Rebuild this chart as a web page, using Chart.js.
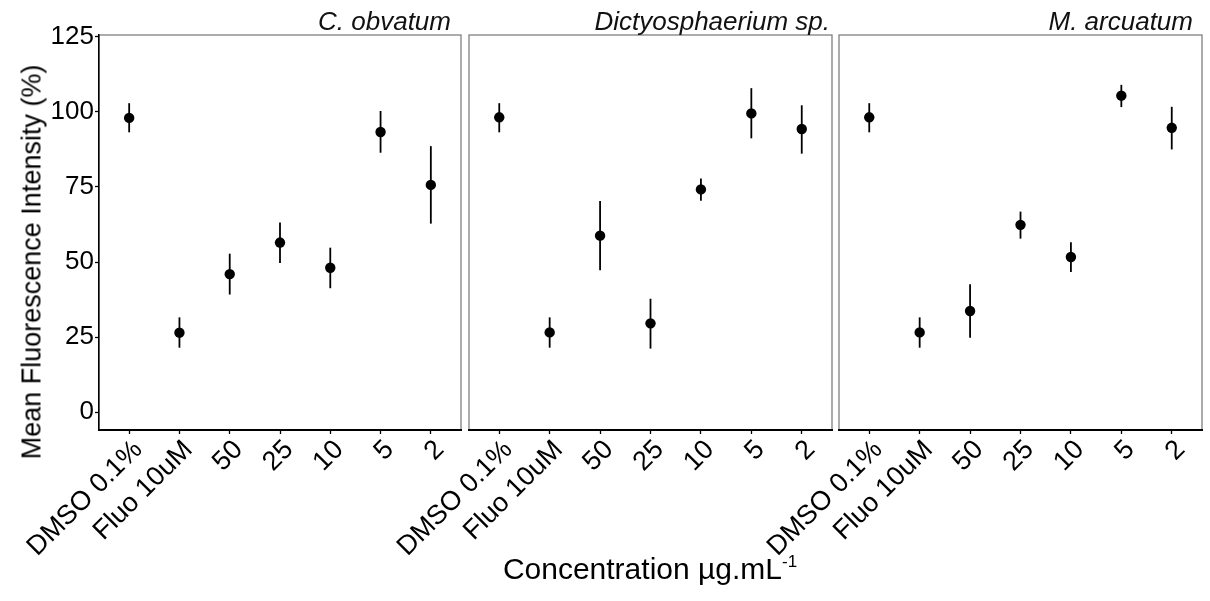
<!DOCTYPE html>
<html><head><meta charset="utf-8">
<script src="https://cdn.jsdelivr.net/npm/chart.js@4.4.1/dist/chart.umd.min.js"></script>
<style>
html,body{margin:0;padding:0;background:#fff;width:1210px;height:601px;overflow:hidden;font-family:"Liberation Sans",Arial,sans-serif;}
canvas{position:absolute;left:0;top:0;}
.strip{position:absolute;font-style:italic;font-size:26px;color:#111;white-space:nowrap;line-height:26px;top:8px;text-align:right;}
#ytitle{position:absolute;left:32px;top:262px;transform:translate(-50%,-50%) rotate(-90deg);font-size:27px;color:#000;white-space:nowrap;}
#xtitle{position:absolute;left:650px;top:569px;transform:translate(-50%,-50%);font-size:30px;color:#000;white-space:nowrap;}
#xtitle sup{font-size:17px;vertical-align:0;position:relative;top:-12px;}
</style></head><body>
<canvas id="c1" width="1210" height="601"></canvas>
<canvas id="c2" width="1210" height="601"></canvas>
<canvas id="c3" width="1210" height="601"></canvas>
<div class="strip" id="s1"></div>
<div class="strip" id="s2"></div>
<div class="strip" id="s3"></div>
<div id="ytitle"></div>
<div id="xtitle"></div>
<script>
// ---- data ----
const categories = ['DMSO 0.1%', 'Fluo 10uM', '50', '25', '10', '5', '2'];
const yTicks = [0, 25, 50, 75, 100, 125];
const panelNames = ['C. obvatum', 'Dictyosphaerium sp.', 'M. arcuatum'];
const yTitle = 'Mean Fluorescence Intensity (%)';
const xTitle = 'Concentration µg.mL';
const xTitleSup = '-1';

const obvatumMean = [98.0, 26.5, 46.0, 56.5, 48.1, 93.3, 75.7];
const obvatumLow  = [93.2, 21.5, 39.2, 49.7, 41.3, 86.4, 62.8];
const obvatumHigh = [102.9, 31.6, 52.8, 63.2, 54.8, 100.3, 88.6];

const dictyoMean = [98.2, 26.6, 58.8, 29.6, 74.2, 99.5, 94.3];
const dictyoLow  = [93.2, 21.5, 47.3, 21.2, 70.4, 91.2, 86.1];
const dictyoHigh = [102.9, 31.6, 70.3, 37.8, 77.8, 107.9, 102.2];

const arcuatumMean = [98.2, 26.6, 33.7, 62.4, 51.7, 105.4, 94.7];
const arcuatumLow  = [93.2, 21.5, 24.8, 57.8, 46.7, 101.6, 87.5];
const arcuatumHigh = [102.9, 31.6, 42.6, 66.8, 56.6, 109.0, 101.7];

// ---- rendering ----
const FONT = '"Liberation Sans", Arial, sans-serif';

const framePlugin = {
  id: 'frame',
  beforeDraw(chart) {
    const a = chart.chartArea, ctx = chart.ctx;
    ctx.save();
    ctx.strokeStyle = '#808080';
    ctx.lineWidth = 1.3;
    ctx.strokeRect(a.left, a.top, a.right - a.left, a.bottom - a.top);
    ctx.restore();
  }
};
const errPlugin = {
  id: 'errbars',
  beforeDatasetsDraw(chart) {
    const ctx = chart.ctx, x = chart.scales.x, y = chart.scales.y;
    const ds = chart.data.datasets[0];
    ctx.save();
    ctx.strokeStyle = '#000';
    ctx.lineWidth = 1.8;
    ds.errLow.forEach((lo, i) => {
      const px = x.getPixelForValue(i);
      ctx.beginPath();
      ctx.moveTo(px, y.getPixelForValue(lo));
      ctx.lineTo(px, y.getPixelForValue(ds.errHigh[i]));
      ctx.stroke();
    });
    ctx.restore();
  }
};

function makeChart(id, mean, low, high, padLeft, padRight, showY) {
  return new Chart(document.getElementById(id), {
    type: 'scatter',
    data: { datasets: [{
      data: mean.map((v, i) => ({ x: i, y: v })),
      errLow: low, errHigh: high,
      pointRadius: 5.2, pointHoverRadius: 5.2,
      backgroundColor: '#000', borderColor: '#000', borderWidth: 0
    }] },
    options: {
      responsive: false, animation: false, devicePixelRatio: 1, events: [],
      layout: { padding: { left: padLeft, right: padRight, top: 35, bottom: 0 } },
      plugins: { legend: { display: false }, tooltip: { enabled: false } },
      scales: {
        x: {
          type: 'linear', min: -0.6, max: 6.6,
          afterBuildTicks: s => { s.ticks = categories.map((c, i) => ({ value: i })); },
          afterFit: s => { s.height = 171; },
          ticks: { callback: v => categories[v], autoSkip: false, maxRotation: 45, minRotation: 45,
                   font: { family: FONT, size: 27 }, color: '#000', padding: 0, labelOffset: 9 },
          grid: { drawOnChartArea: false, drawTicks: true, tickLength: 4, tickColor: '#000', tickWidth: 1.3 },
          border: { display: true, color: '#000', width: 2 }
        },
        y: {
          type: 'linear', display: showY, min: -5.9, max: 125.6,
          afterBuildTicks: s => { s.ticks = yTicks.map(v => ({ value: v })); },
          afterFit: s => { s.width = showY ? 99 : 0; },
          ticks: { font: { family: FONT, size: 26 }, color: '#000', padding: 1 },
          grid: { drawOnChartArea: false, drawTicks: true, tickLength: 4, tickColor: '#000', tickWidth: 1.3 },
          border: { display: true, color: '#000', width: 1.5 }
        }
      }
    },
    plugins: [framePlugin, errPlugin]
  });
}

makeChart('c1', obvatumMean, obvatumLow, obvatumHigh, 0, 1210 - 461, true);
makeChart('c2', dictyoMean, dictyoLow, dictyoHigh, 469, 1210 - 832, false);
makeChart('c3', arcuatumMean, arcuatumLow, arcuatumHigh, 839, 1210 - 1202, false);

const stripRight = [451, 830, 1193];
['s1', 's2', 's3'].forEach((id, i) => {
  const el = document.getElementById(id);
  el.textContent = panelNames[i];
  el.style.right = (1210 - stripRight[i]) + 'px';
});
document.getElementById('ytitle').textContent = yTitle;
const xt = document.getElementById('xtitle');
xt.textContent = xTitle;
const sup = document.createElement('sup');
sup.textContent = xTitleSup;
xt.appendChild(sup);
</script>
</body></html>
